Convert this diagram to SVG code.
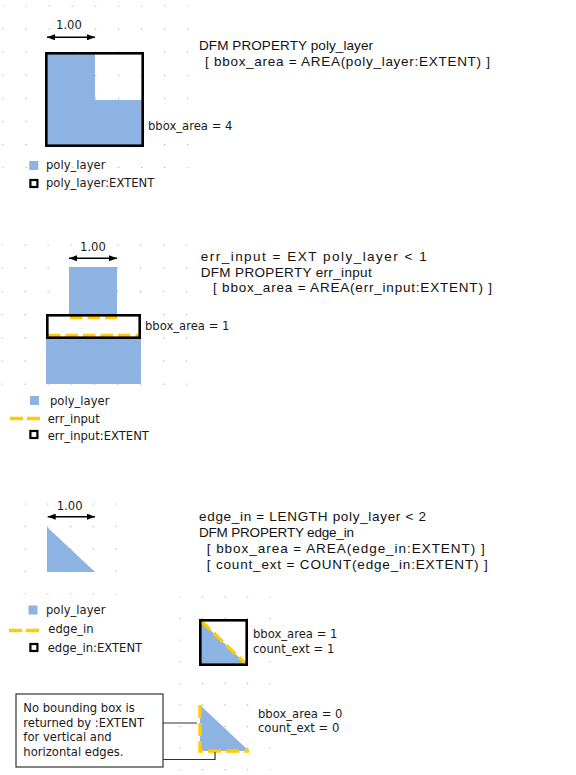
<svg xmlns="http://www.w3.org/2000/svg" width="576" height="775" viewBox="0 0 576 775">
<style>
.t{font-family:"Liberation Sans",Arial,sans-serif;font-size:13.5px;fill:#111}
.l{font-family:"DejaVu Sans",Verdana,sans-serif;font-size:11.6px;fill:#1a1a1a}
.blue{fill:#8DB3E2}
.ext{fill:none;stroke:#000;stroke-width:2.6}
.ext2{fill:#fff;stroke:#000;stroke-width:2.2}
.dash{fill:none;stroke:#FFCC00;stroke-width:3.4;stroke-dasharray:12.5 5}
.dim{stroke:#000;stroke-width:1.5;fill:none}
.conn{stroke:#333;stroke-width:1.2;fill:none}
</style>
<defs>
<marker id="ah" viewBox="0 0 8 6" refX="8" refY="3" markerWidth="8" markerHeight="6" markerUnits="userSpaceOnUse" orient="auto-start-reverse"><path d="M0,0 L8,3 L0,6 z" fill="#000"/></marker>
<pattern id="g1" patternUnits="userSpaceOnUse" x="2.4" y="5.4" width="23.1" height="23.1"><rect width="1.2" height="1.2" fill="#8fb3ab"/></pattern>
<pattern id="g2" patternUnits="userSpaceOnUse" x="1.4" y="244.4" width="23.1" height="23.2"><rect width="1.2" height="1.2" fill="#8fb3ab"/></pattern>
<pattern id="g3" patternUnits="userSpaceOnUse" x="24.4" y="503.4" width="22.75" height="22.5"><rect width="1.2" height="1.2" fill="#8fb3ab"/></pattern>
<pattern id="g4" patternUnits="userSpaceOnUse" x="179.4" y="596.4" width="22.5" height="21.6"><rect width="1.2" height="1.2" fill="#8fb3ab"/></pattern>
</defs>
<rect width="576" height="775" fill="#fff"/>
<g id="grid">
<rect x="2.4" y="5.4" width="186" height="163" fill="url(#g1)"/>
<rect x="1.4" y="244.4" width="186" height="141" fill="url(#g2)"/>
<rect x="24.4" y="503.4" width="92.4" height="91.2" fill="url(#g3)"/>
<rect x="179.4" y="596.4" width="91.2" height="174" fill="url(#g4)"/>
</g>

<g id="section1">
<polygon class="blue" points="46,53 95,53 95,100 143,100 143,146 46,146"/>
<rect class="ext" x="46.3" y="53.3" width="96.4" height="92.4"/>
<text class="l" x="56" y="28.5">1.00</text>
<text class="l" x="148" y="130">bbox_area = 4</text>
<text class="t" x="199" y="50" textLength="174" lengthAdjust="spacing">DFM PROPERTY poly_layer</text>
<text class="t" x="205" y="66" textLength="285" lengthAdjust="spacing">[ bbox_area = AREA(poly_layer:EXTENT) ]</text>
</g>
<g id="legend1">
<rect class="blue" x="29.3" y="161" width="9" height="9"/>
<text class="l" x="46" y="168.5">poly_layer</text>
<rect class="ext2" x="30.4" y="180" width="7" height="7"/>
<text class="l" x="46" y="186.5">poly_layer:EXTENT</text>
</g>

<g id="section2">
<rect class="blue" x="69" y="267" width="48" height="48"/>
<rect class="blue" x="46" y="338" width="95" height="46"/>
<rect x="47.3" y="315.3" width="92.4" height="22.4" fill="#fff"/>
<line class="dash" x1="70" y1="317.5" x2="117" y2="317.5"/>
<line class="dash" x1="48" y1="335.5" x2="140" y2="335.5"/>
<rect class="ext" x="47.3" y="315.3" width="92.4" height="22.4"/>
<text class="l" x="80" y="251">1.00</text>
<text class="l" x="145" y="330">bbox_area = 1</text>
<text class="t" x="200.7" y="261" textLength="226" lengthAdjust="spacing">err_input = EXT poly_layer &lt; 1</text>
<text class="t" x="200.7" y="276.7" textLength="171" lengthAdjust="spacing">DFM PROPERTY err_input</text>
<text class="t" x="213" y="292" textLength="279" lengthAdjust="spacing">[ bbox_area = AREA(err_input:EXTENT) ]</text>
</g>
<g id="legend2">
<rect class="blue" x="30" y="396" width="9" height="9"/>
<text class="l" x="50" y="404.5">poly_layer</text>
<line class="dash" x1="10" y1="418.5" x2="40" y2="418.5" style="stroke-dasharray:13 4"/>
<text class="l" x="47.7" y="423">err_input</text>
<rect class="ext2" x="30.4" y="431" width="7" height="7"/>
<text class="l" x="47.7" y="440">err_input:EXTENT</text>
</g>

<g id="section3">
<polygon class="blue" points="47,527 47,572 95,572"/>
<text class="l" x="56.7" y="509.5">1.00</text>
<text class="t" x="199" y="521" textLength="227" lengthAdjust="spacing">edge_in = LENGTH poly_layer &lt; 2</text>
<text class="t" x="199" y="537.3" textLength="155" lengthAdjust="spacing">DFM PROPERTY edge_in</text>
<text class="t" x="206.7" y="553.3" textLength="278" lengthAdjust="spacing">[ bbox_area = AREA(edge_in:EXTENT) ]</text>
<text class="t" x="206.7" y="569" textLength="281" lengthAdjust="spacing">[ count_ext = COUNT(edge_in:EXTENT) ]</text>
</g>
<g id="legend3">
<rect class="blue" x="28.5" y="605.5" width="9" height="9"/>
<text class="l" x="46" y="614">poly_layer</text>
<line class="dash" x1="9" y1="630.5" x2="39" y2="630.5" style="stroke-dasharray:13 4"/>
<text class="l" x="48.3" y="633">edge_in</text>
<rect class="ext2" x="30.4" y="644" width="7" height="7"/>
<text class="l" x="47.7" y="652">edge_in:EXTENT</text>
</g>
<g id="extent-box">
<rect x="200" y="620" width="47" height="45" fill="#fff"/>
<polygon class="blue" points="200,620 200,665 247,665"/>
<line class="dash" x1="201" y1="621" x2="247" y2="665"/>
<rect class="ext" x="200.3" y="620.3" width="46.4" height="44.4"/>
<text class="l" x="253" y="638">bbox_area = 1</text>
<text class="l" x="253" y="653">count_ext = 1</text>
</g>
<g id="no-extent">
<polygon class="blue" points="200,705 200,751 249,751"/>
<polyline class="dash" points="200,705 200,751 249,751" style="stroke-dasharray:13 5"/>
<text class="l" x="258" y="717.5">bbox_area = 0</text>
<text class="l" x="258" y="732">count_ext = 0</text>
</g>
<g id="callout">
<rect x="16" y="694" width="147" height="73" fill="#fff" stroke="#333" stroke-width="1.2"/>
<text class="l" x="23.3" y="712">No bounding box is</text>
<text class="l" x="23.3" y="726.7">returned by :EXTENT</text>
<text class="l" x="23.3" y="741">for vertical and</text>
<text class="l" x="23.3" y="755.5">horizontal edges.</text>
</g>

<g id="connectors">
<line class="dim" x1="47" y1="37.3" x2="95" y2="37.3" marker-start="url(#ah)" marker-end="url(#ah)"/>
<line class="dim" x1="69" y1="258.3" x2="117" y2="258.3" marker-start="url(#ah)" marker-end="url(#ah)"/>
<line class="dim" x1="47.7" y1="516.7" x2="95" y2="516.7" marker-start="url(#ah)" marker-end="url(#ah)"/>
<line class="conn" x1="163" y1="723" x2="197" y2="723"/>
<polyline class="conn" points="163,759.5 215,759.5 215,752"/>
</g>
</svg>
